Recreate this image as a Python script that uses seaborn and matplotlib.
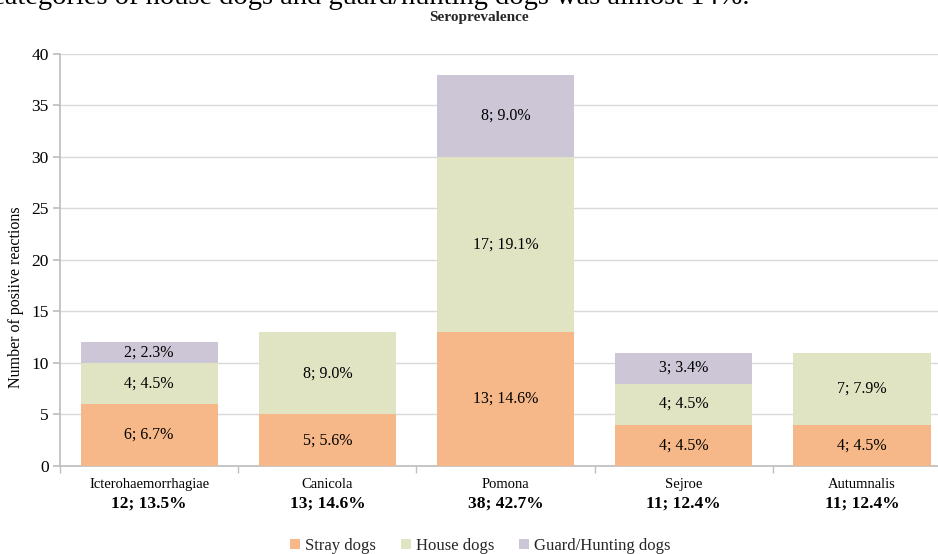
import matplotlib
matplotlib.use("Agg")
import matplotlib.pyplot as plt
import seaborn as sns
import pandas as pd
import numpy as np
from matplotlib.patches import Patch
from matplotlib.transforms import blended_transform_factory

categories = ["Icterohaemorrhagiae", "Canicola", "Pomona", "Sejroe", "Autumnalis"]
stray = [6, 5, 13, 4, 4]
house = [4, 8, 17, 4, 7]
guard = [2, 0, 8, 3, 0]
stray_pct = [6.7, 5.6, 14.6, 4.5, 4.5]
house_pct = [4.5, 9.0, 19.1, 4.5, 7.9]
guard_pct = [2.3, 0.0, 9.0, 3.4, 0.0]
total_labels = ["12; 13.5%", "13; 14.6%", "38; 42.7%", "11; 12.4%", "11; 12.4%"]
series_names = ["Stray dogs", "House dogs", "Guard/Hunting dogs"]
colors = ["#F6B888", "#E1E4C3", "#CCC6D7"]

sns.set_theme(style="white")
plt.rcParams['font.family'] = ['Liberation Serif', 'DejaVu Serif']

fig = plt.figure(figsize=(9.38, 5.54), dpi=100)
ax = fig.add_axes([0.064, 0.159, 0.950, 0.7437])

s = np.array(stray); h = np.array(house); g = np.array(guard)
df = pd.DataFrame({"cat": categories, "l1": s + h + g, "l2": s + h, "l3": s})
for col, c in zip(["l1", "l2", "l3"], colors[::-1]):
    sns.barplot(data=df, x="cat", y=col, color=c, width=0.77, ax=ax,
                saturation=1, linewidth=0, edgecolor="none", zorder=3)

ax.set_ylim(0, 40)
ax.set_xlim(-0.5, 4.5)
ax.set_yticks(range(0, 41, 5))
ax.yaxis.grid(True, color="#D9D9D9", linewidth=1, zorder=0)
ax.set_axisbelow(True)
for sp in ["top", "right"]:
    ax.spines[sp].set_visible(False)
ax.spines["left"].set_color("#BFBFBF")
ax.spines["bottom"].set_color("#BFBFBF")
ax.tick_params(axis="y", left=True, length=5, color="#BFBFBF", labelsize=12.5, pad=3, labelcolor="black")
ax.tick_params(axis="x", bottom=False, labelsize=10.5, pad=3, labelcolor="black")
ax.set_xticks(range(5))
ax.set_xticklabels(categories)
ax.set_xticks(np.arange(-0.5, 5.0, 1), minor=True)
ax.tick_params(axis="x", which="minor", bottom=True, length=5, color="#BFBFBF")
ax.set_xlabel("")
ax.set_ylabel("Number of posiive reactions", fontsize=11.5, color="black")
ax.yaxis.set_label_coords(-0.040, 0.41)

# segment labels
for i in range(5):
    segs = [(0, stray[i], stray_pct[i]), (stray[i], house[i], house_pct[i]),
            (stray[i] + house[i], guard[i], guard_pct[i])]
    for base, val, pct in segs:
        if val > 0:
            ax.text(i, base + val / 2, f"{val}; {pct:.1f}%", ha="center", va="center",
                    fontsize=11.5, color="black", zorder=5)

trans = blended_transform_factory(ax.transData, fig.transFigure)
for i, t in enumerate(total_labels):
    ax.text(i, 1 - 504 / 554, t, transform=trans, ha="center", va="center",
            fontsize=12.5, fontweight="bold", color="black")

fig.text(0.511, 1 - 18 / 554, "Seroprevalence", ha="center", va="center",
         fontsize=11, fontweight="bold")
fig.text(-0.009, 1 - 4 / 554, "categories of house dogs and guard/hunting dogs was almost 14%.",
         ha="left", va="baseline", fontsize=20.5, color="black")

handles = [Patch(facecolor=c, edgecolor="none") for c in colors]
fig.legend(handles, series_names, loc="center", bbox_to_anchor=(0.512, 1 - 546 / 554),
           ncol=3, frameon=False, fontsize=12, handlelength=0.6, handleheight=0.6,
           handletextpad=0.3, columnspacing=1.5)

fig.savefig("out.png", dpi=100)
